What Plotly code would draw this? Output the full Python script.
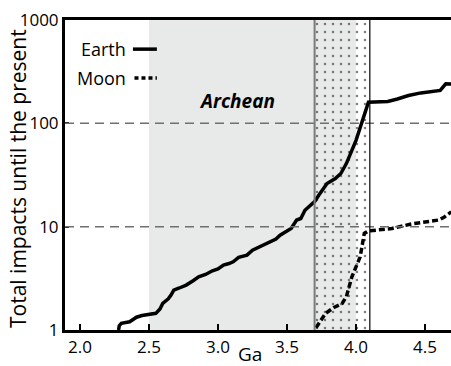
import plotly.graph_objects as go

# Earth cumulative impacts
earth_ga = [2.28, 2.285, 2.30, 2.36, 2.41, 2.45, 2.55, 2.58, 2.60, 2.64, 2.66, 2.68, 2.72, 2.77, 2.82, 2.86,
            2.91, 2.96, 3.00, 3.04, 3.08, 3.11, 3.15, 3.21, 3.25, 3.29, 3.32, 3.38, 3.42, 3.45, 3.50, 3.53,
            3.57, 3.60, 3.63, 3.67, 3.70, 3.73, 3.79, 3.85, 3.89, 3.93, 4.00, 4.09, 4.23, 4.30, 4.38, 4.47,
            4.55, 4.61, 4.65, 4.69]
earth_n = [1.0, 1.1, 1.16, 1.2, 1.33, 1.38, 1.45, 1.6, 1.81, 2.0, 2.18, 2.43, 2.55, 2.72, 3.0, 3.27,
           3.45, 3.74, 3.9, 4.25, 4.4, 4.57, 5.04, 5.3, 5.93, 6.3, 6.63, 7.13, 7.6, 8.28, 9.0, 9.6,
           11.6, 12.0, 14.4, 16.1, 17.5, 20.1, 26.1, 29.2, 32.7, 40.8, 68.5, 160, 163, 172, 186, 197,
           205, 208, 241, 240]

# Moon cumulative impacts
moon_ga = [3.71, 3.78, 3.84, 3.90, 3.93, 3.97, 4.03, 4.06, 4.09, 4.18, 4.26, 4.33, 4.40, 4.50, 4.60, 4.64, 4.69]
moon_n = [1.05, 1.45, 1.65, 1.81, 2.1, 3.27, 5.1, 8.6, 9.1, 9.3, 9.6, 10.1, 10.6, 11.1, 11.6, 12.4, 13.9]

# Eras / shaded intervals (Ga)
archean = [2.5, 4.0]
bombardment = [3.7, 4.1]

x_ticks = [2.0, 2.5, 3.0, 3.5, 4.0, 4.5]
x_ticktext = ["2.0", "2.5", "3.0", "3.5", "4.0", "4.5"]
y_ticks = [1, 10, 100, 1000]
y_ticktext = ["1", "10", "100", "1000"]
grid_levels = [10, 100]

FONT = "Open Sans"

fig = go.Figure()

# dotted (stippled) interval
fig.add_trace(go.Scatter(
    x=[bombardment[0], bombardment[1], bombardment[1], bombardment[0], bombardment[0]],
    y=[1, 1, 1000, 1000, 1],
    mode="lines", fill="toself", line=dict(width=0),
    fillcolor="rgba(0,0,0,0)",
    fillpattern=dict(shape=".", fgcolor="black", bgcolor="rgba(0,0,0,0)", size=8, solidity=0.08),
    hoverinfo="skip", showlegend=False))

fig.add_trace(go.Scatter(x=earth_ga, y=earth_n, mode="lines",
                         line=dict(color="black", width=3.5), showlegend=False))
fig.add_trace(go.Scatter(x=moon_ga, y=moon_n, mode="lines",
                         line=dict(color="black", width=3.5, dash="6px,3px"), showlegend=False))

shapes = [
    dict(type="rect", xref="x", yref="paper", x0=archean[0], x1=archean[1], y0=0, y1=1,
         fillcolor="#e8e9e9", line_width=0, layer="below"),
]
for g in grid_levels:
    shapes.append(dict(type="line", xref="paper", yref="y", x0=0, x1=1, y0=g, y1=g,
                       line=dict(color="#6f6f6f", width=1.5, dash="9px,6px"), layer="above"))
shapes.append(dict(type="line", xref="x", yref="paper", x0=bombardment[0], x1=bombardment[0], y0=0, y1=1,
                   line=dict(color="#7a7a7a", width=2), layer="above"))
shapes.append(dict(type="line", xref="x", yref="paper", x0=bombardment[1], x1=bombardment[1], y0=0, y1=1,
                   line=dict(color="black", width=1.2), layer="above"))
# legend samples
shapes.append(dict(type="line", xref="paper", yref="paper", x0=0.176, x1=0.238, y0=0.906, y1=0.906,
                   line=dict(color="black", width=3.5)))
shapes.append(dict(type="line", xref="paper", yref="paper", x0=0.180, x1=0.238, y0=0.813, y1=0.813,
                   line=dict(color="black", width=3.5, dash="4px,3px")))

annotations = [
    dict(text="Earth", xref="paper", yref="paper", x=0.164, y=0.906, xanchor="right", yanchor="middle",
         showarrow=False, font=dict(family=FONT, size=18, color="black")),
    dict(text="Moon", xref="paper", yref="paper", x=0.162, y=0.813, xanchor="right", yanchor="middle",
         showarrow=False, font=dict(family=FONT, size=18, color="black")),
    dict(text="<b><i>Archean</i></b>", xref="x", yref="paper", x=3.14, y=0.738, xanchor="center",
         yanchor="middle", showarrow=False, font=dict(family=FONT, size=19, color="black")),
    dict(text="Ga", xref="x", yref="paper", x=3.23, y=-0.077, xanchor="center", yanchor="middle",
         showarrow=False, font=dict(family=FONT, size=19, color="black")),
    dict(text="Total impacts until the present", xref="paper", yref="paper", x=-0.122, y=0.49,
         xanchor="center", yanchor="middle", textangle=-90, showarrow=False,
         font=dict(family=FONT, size=21, color="black")),
]

fig.update_layout(
    width=451, height=366,
    margin=dict(l=65, r=0, t=20, b=36),
    paper_bgcolor="white", plot_bgcolor="white",
    font=dict(family=FONT, size=16, color="black"),
    shapes=shapes, annotations=annotations,
    xaxis=dict(range=[1.892, 4.688], tickvals=x_ticks, ticktext=x_ticktext,
               ticks="inside", ticklen=6, tickwidth=2, tickcolor="black",
               showline=True, linewidth=3, linecolor="black", mirror=True,
               showgrid=False, zeroline=False, automargin=False,
               tickfont=dict(size=17)),
    yaxis=dict(type="log", range=[0, 3], tickvals=y_ticks, ticktext=y_ticktext,
               ticks="inside", ticklen=4, tickwidth=1.5, tickcolor="black",
               showline=True, linewidth=3, linecolor="black",
               showgrid=False, zeroline=False, automargin=False,
               tickfont=dict(size=17)),
)

fig.write_html("out.html", config={"displayModeBar": False},
               post_script="document.body.style.margin='0';document.body.style.overflow='hidden';")
